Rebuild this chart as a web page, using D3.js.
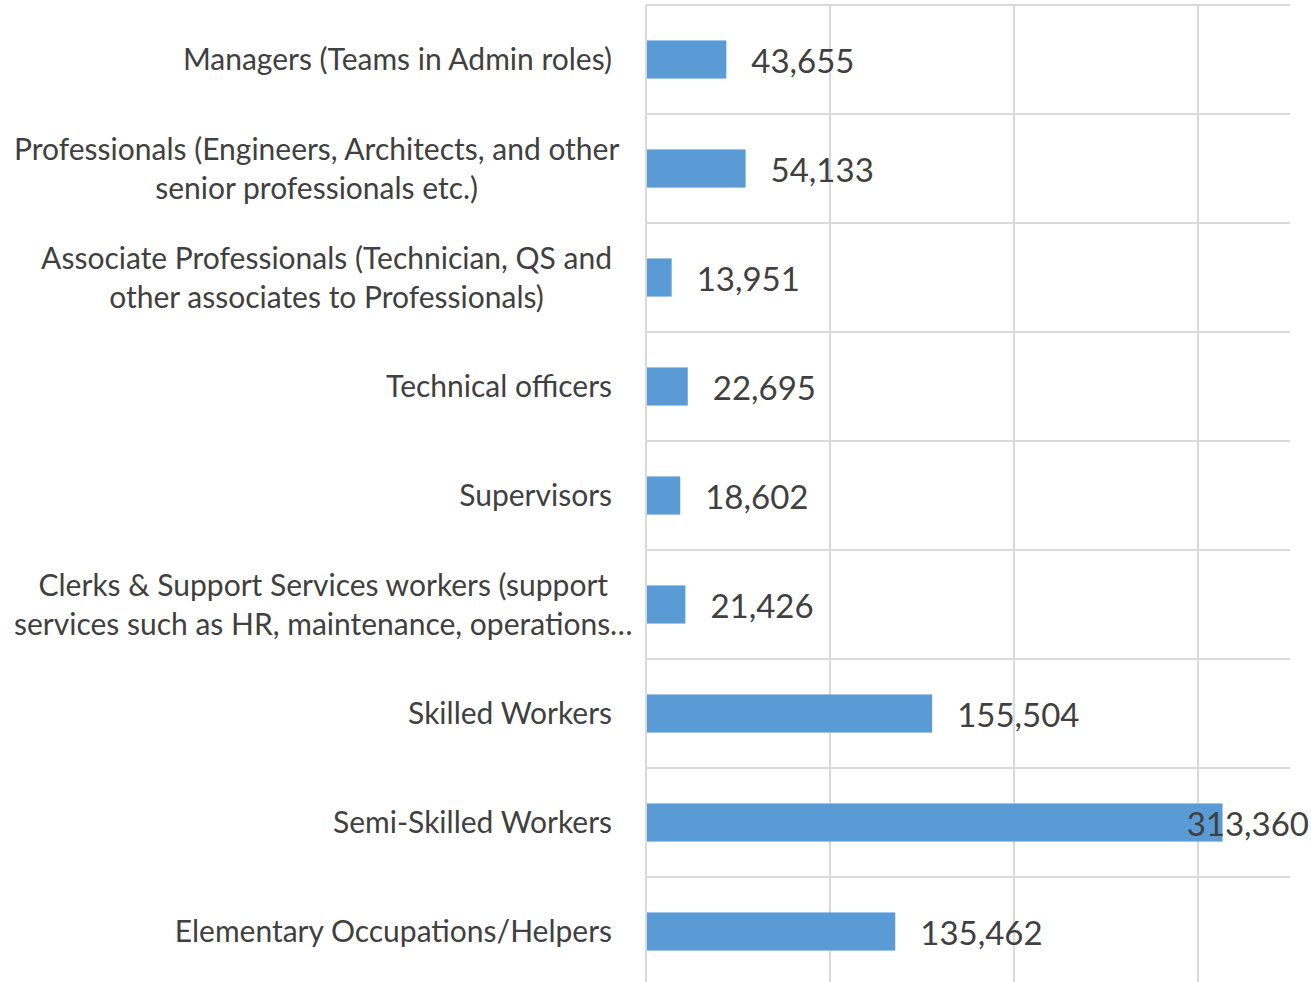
<!DOCTYPE html>
<html>
<head>
<meta charset="utf-8">
<script src="https://cdn.jsdelivr.net/npm/d3@7"></script>
<style>
  body { margin: 0; background: #fff; }
  svg { display: block; font-family: Lato, "Open Sans", sans-serif; }
</style>
</head>
<body>
<svg id="chart" width="1311" height="982"></svg>
<script>
// category labels, already broken into lines the way the picture shows them
const categories = [
  ["Managers (Teams in Admin roles)"],
  ["Professionals (Engineers, Architects, and other", "senior professionals etc.)"],
  ["Associate Professionals (Technician, QS and", "other associates to Professionals)"],
  ["Technical officers"],
  ["Supervisors"],
  ["Clerks & Support Services workers (support", "services such as HR, maintenance, operations…"],
  ["Skilled Workers"],
  ["Semi-Skilled Workers"],
  ["Elementary Occupations/Helpers"]
];
const values = [43655, 54133, 13951, 22695, 18602, 21426, 155504, 313360, 135462];
const gridTicks = [0, 100000, 200000, 300000];

const width = 1311, height = 982;
const plotLeft = 646, plotRight = 1290, plotTop = 5, plotBottom = 986;
const labelRight = 612, labelMinLeft = 14;

const svg = d3.select('#chart');
const keys = categories.map((c, i) => i);

const x = d3.scaleLinear().domain([0, 350000]).range([plotLeft, plotRight]);
const y = d3.scaleBand().domain(keys).range([plotTop, plotBottom]).padding(0);

const grid = '#d9d9d9';

//horizontal band lines
svg.append('g')
  .selectAll('line')
  .data(keys)
  .join('line')
  .attr('x1', plotLeft).attr('x2', plotRight)
  .attr('y1', d => y(d)).attr('y2', d => y(d))
  .attr('stroke', grid).attr('stroke-width', 2);

//vertical grid lines
svg.append('g')
  .selectAll('line')
  .data(gridTicks)
  .join('line')
  .attr('x1', d => x(d)).attr('x2', d => x(d))
  .attr('y1', plotTop).attr('y2', height)
  .attr('stroke', grid).attr('stroke-width', 2);

//bars
const barH = y.bandwidth() * 0.35;
svg.append('g')
  .selectAll('rect')
  .data(keys)
  .join('rect')
  .attr('x', x(0) + 1)
  .attr('y', d => y(d) + (y.bandwidth() - barH) / 2)
  .attr('width', d => x(values[d]) - x(0) - 1)
  .attr('height', barH)
  .attr('fill', '#5b9bd5');

//value labels
const fmt = d3.format(',');
svg.append('g')
  .selectAll('text')
  .data(keys)
  .join('text')
  .attr('x', d => x(values[d]) + 25)
  .attr('y', d => y(d) + y.bandwidth() / 2 + 2)
  .attr('dy', '0.36em')
  .attr('font-size', 33)
  .attr('fill', '#404040')
  .text(d => fmt(values[d]))
  .each(function () {
    const w = this.getComputedTextLength();
    const xs = +this.getAttribute('x');
    if (xs + w > width - 2) this.setAttribute('x', width - 2 - w);
  });

//category labels
const lineH = 39;
const labels = svg.append('g')
  .selectAll('g')
  .data(keys)
  .join('g');

labels.each(function (d) {
  const g = d3.select(this);
  const lines = categories[d];
  const cy = y(d) + y.bandwidth() / 2;
  const texts = g.selectAll('text')
    .data(lines)
    .join('text')
    .attr('font-size', 30)
    .attr('fill', '#404040')
    .attr('text-anchor', 'middle')
    .attr('y', (l, i) => cy + (i - (lines.length - 1) / 2) * lineH)
    .attr('dy', '0.36em')
    .text(l => l);
  let maxW = 0;
  texts.each(function () { maxW = Math.max(maxW, this.getComputedTextLength()); });
  const leftEdge = Math.max(labelRight - maxW, labelMinLeft);
  texts.attr('x', leftEdge + maxW / 2);
});
</script>
</body>
</html>
